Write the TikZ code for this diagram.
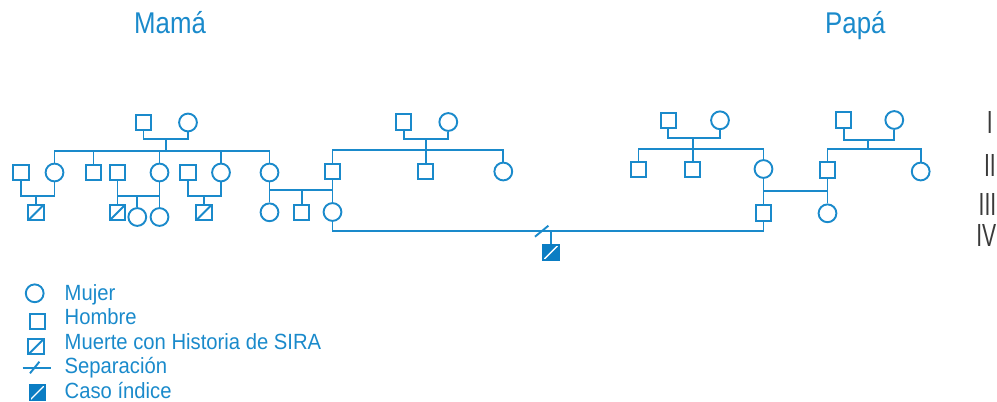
\documentclass[tikz,border=0pt]{standalone}
\usepackage{fontspec}
\setmainfont{Liberation Sans}
\newfontfamily\titlefont[FakeStretch=0.86]{Liberation Sans}
\newfontfamily\legfont[FakeStretch=0.92]{Liberation Sans}
\newfontfamily\genfont[FakeStretch=0.66]{Liberation Sans}
\definecolor{ped}{HTML}{1A8ACB}
\definecolor{pedfill}{HTML}{0B7DC3}
\definecolor{gen}{HTML}{3A3A3A}

\begin{document}
\begin{tikzpicture}[x=1pt,y=-1pt,
  link/.style={draw=ped, line width=1.9pt},
  male/.style={draw=ped, line width=1.9pt, rectangle, minimum size=15.3pt, inner sep=0pt},
  female/.style={draw=ped, line width=1.9pt, circle, minimum size=17.8pt, inner sep=0pt},
  dead/.style={male, path picture={\draw[ped, line width=1.9pt]
      (path picture bounding box.south west) -- (path picture bounding box.north east);}},
  index/.style={male, fill=pedfill, draw=pedfill, path picture={\draw[white, line width=1.4pt]
      (path picture bounding box.south west) -- (path picture bounding box.north east);}},
  title/.style={anchor=base west, text=ped, font=\fontsize{30}{30}\titlefont, inner sep=0pt},
  genlabel/.style={anchor=base east, text=gen, font=\fontsize{32}{32}\genfont, inner sep=0pt},
  legtext/.style={anchor=base west, text=ped, font=\fontsize{22}{22}\legfont, inner sep=0pt},
]
\useasboundingbox (0,0) rectangle (997,402);

% headings
\node[title] (tmama) at (134,33.3) {Mamá};
\node[title] (tpapa) at (825,33.3) {Papá};

% generation numerals
\node[genlabel] (g1) at (993,133.3) {I};
\node[genlabel] (g2) at (996,176.7) {II};
\node[genlabel] (g3) at (996.5,215.5) {III};
\node[genlabel] (g4) at (996.5,246.7) {IV};

% ---------- maternal side ----------
% generation I, first family
\node[male]   (A1) at (143.5,122.5) {};
\node[female] (A2) at (188,122.5) {};
% generation II
\node[male]   (a1) at (21,172.5) {};
\node[female] (a2) at (54.5,172.5) {};
\node[male]   (a3) at (93.5,172.5) {};
\node[male]   (a4) at (117.5,172.5) {};
\node[female] (a5) at (159.5,172.5) {};
\node[male]   (a6) at (188,172.5) {};
\node[female] (a7) at (221,172.5) {};
\node[female] (a8) at (269.5,172.5) {};
% generation III
\node[dead]   (b1) at (36,212.5) {};
\node[dead]   (b2) at (117.5,212.5) {};
\node[female] (b3) at (137.3,217) {};
\node[female] (b4) at (159.5,217) {};
\node[dead]   (b5) at (204,212.5) {};
\node[female] (b6) at (269.5,212.3) {};
\node[male]   (b7) at (301.7,212.5) {};
\node[female] (b8) at (332.5,212) {};

% generation I, second family
\node[male]   (B1) at (403.7,122) {};
\node[female] (B2) at (448.3,122) {};
\node[male]   (c1) at (332.5,171.5) {};
\node[male]   (c2) at (425.7,171.5) {};
\node[female] (c3) at (503.3,171.5) {};

% ---------- paternal side ----------
\node[male]   (C1) at (668.3,120.3) {};
\node[female] (C2) at (720,120.3) {};
\node[male]   (d1) at (638.5,169.7) {};
\node[male]   (d2) at (692.7,169.7) {};
\node[female] (d3) at (763.5,169) {};

\node[male]   (D1) at (843.7,120) {};
\node[female] (D2) at (894.3,120) {};
\node[male]   (e1) at (827.5,170) {};
\node[female] (e2) at (920.7,171.5) {};

\node[male]   (f1) at (763.5,213) {};
\node[female] (f2) at (827.5,213.3) {};

% index case
\node[index]  (ix) at (551,252.3) {};

% junction points
\coordinate (jA) at (165.7,139);
\coordinate (sA) at (165.7,150.7);
\coordinate (ja1) at (36,195.7);
\coordinate (ja2) at (137.3,195.7);
\coordinate (ja3) at (204,195.7);
\coordinate (jx) at (301.7,190);
\coordinate (jB) at (425.7,139);
\coordinate (sB) at (425.7,150);
\coordinate (jC) at (692.7,138.3);
\coordinate (sC) at (692.7,149);
\coordinate (jD) at (868.3,140);
\coordinate (sD) at (868.3,149.3);
\coordinate (jy) at (795,190.7);
\coordinate (jm) at (551,230.7);
\coordinate (sep) at (541.7,231.2);

% first maternal family
\draw[link] (A1) |- (jA) -| (A2);
\draw[link] (jA) -- (sA);
\draw[link] (a2) |- (sA) -| (a8);
\draw[link] (a3) |- (sA);
\draw[link] (a5) |- (sA);
\draw[link] (a7) |- (sA);
\draw[link] (a1) |- (ja1) -| (a2);
\draw[link] (ja1) -- (b1);
\draw[link] (a4) |- (ja2) -| (a5);
\draw[link] (a4) -- (b2);
\draw[link] (ja2) -- (b3);
\draw[link] (a5) -- (b4);
\draw[link] (a6) |- (ja3) -| (a7);
\draw[link] (ja3) -- (b5);
\draw[link] (a8) |- (jx) -| (c1);
\draw[link] (a8) -- (b6);
\draw[link] (jx) -- (b7);
\draw[link] (c1) -- (b8);

% second maternal family
\draw[link] (B1) |- (jB) -| (B2);
\draw[link] (jB) -- (sB);
\draw[link] (c1) |- (sB) -| (c3);
\draw[link] (sB) -- (c2);

% paternal families
\draw[link] (C1) |- (jC) -| (C2);
\draw[link] (jC) -- (sC);
\draw[link] (d1) |- (sC) -| (d3);
\draw[link] (sC) -- (d2);
\draw[link] (D1) |- (jD) -| (D2);
\draw[link] (jD) -- (sD);
\draw[link] (e1) |- (sD) -| (e2);
\draw[link] (d3) |- (jy) -| (e1);
\draw[link] (d3) -- (f1);
\draw[link] (e1) -- (f2);

% parents of the index case, separated
\draw[link] (b8) |- (jm) -| (f1);
\draw[link] (jm) -- (ix);
\draw[link] ([shift={(-6.7,5.5)}]sep) -- ([shift={(6.7,-5.5)}]sep);

% ---------- legend ----------
\node[female] (lf) at (34.7,293.3) {};
\node[male]   (lm) at (37.7,321.3) {};
\node[dead]   (ld) at (36,346.7) {};
\coordinate (ls1) at (22.7,367.7);
\coordinate (ls2) at (51,367.7);
\coordinate (lsc) at (34.7,367.5);
\draw[link] (ls1) -- (ls2);
\draw[link] ([shift={(-4.7,5.8)}]lsc) -- ([shift={(4.7,-5.8)}]lsc);
\node[index]  (li) at (37.2,392.8) {};

\node[legtext] (tf) at (64.5,300) {Mujer};
\node[legtext] (tm) at (64.5,324.3) {Hombre};
\node[legtext] (td) at (64.5,349.3) {Muerte con Historia de SIRA};
\node[legtext] (ts) at (64.5,373.3) {Separación};
\node[legtext] (ti) at (64.5,398.3) {Caso índice};
\end{tikzpicture}
\end{document}
